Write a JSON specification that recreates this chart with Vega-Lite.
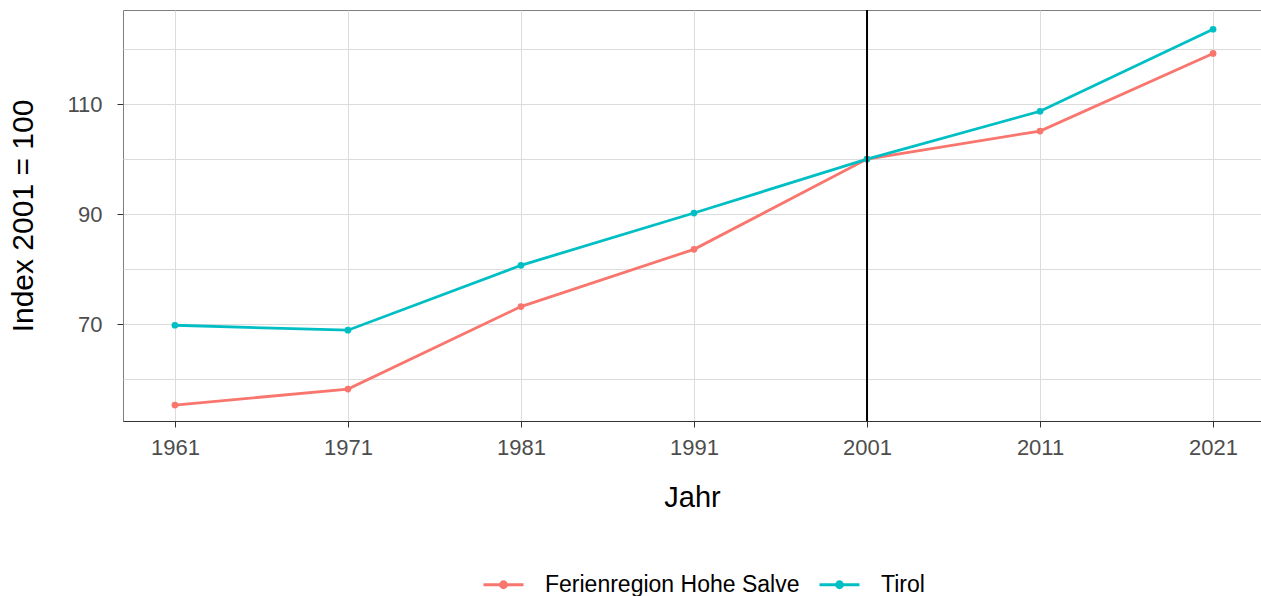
{
  "$schema": "https://vega.github.io/schema/vega-lite/v6.json",
  "autosize": "none",
  "width": 1138,
  "height": 411,
  "padding": {"left": 123, "top": 10, "right": 0, "bottom": 175},
  "background": "white",
  "config": {
    "font": "Liberation Sans",
    "view": {"stroke": "#7f7f7f", "strokeWidth": 1}
  },
  "data": {"values": [
    {"Jahr": 1961, "Region": "Ferienregion Hohe Salve", "Index": 55.3},
    {"Jahr": 1971, "Region": "Ferienregion Hohe Salve", "Index": 58.2},
    {"Jahr": 1981, "Region": "Ferienregion Hohe Salve", "Index": 73.2},
    {"Jahr": 1991, "Region": "Ferienregion Hohe Salve", "Index": 83.6},
    {"Jahr": 2001, "Region": "Ferienregion Hohe Salve", "Index": 100},
    {"Jahr": 2011, "Region": "Ferienregion Hohe Salve", "Index": 105.1},
    {"Jahr": 2021, "Region": "Ferienregion Hohe Salve", "Index": 119.2},
    {"Jahr": 1961, "Region": "Tirol", "Index": 69.8},
    {"Jahr": 1971, "Region": "Tirol", "Index": 68.9},
    {"Jahr": 1981, "Region": "Tirol", "Index": 80.7},
    {"Jahr": 1991, "Region": "Tirol", "Index": 90.2},
    {"Jahr": 2001, "Region": "Tirol", "Index": 100},
    {"Jahr": 2011, "Region": "Tirol", "Index": 108.7},
    {"Jahr": 2021, "Region": "Tirol", "Index": 123.6}
  ]},
  "encoding": {
    "x": {"field": "Jahr", "type": "quantitative", "scale": {"domain": [1958, 2023.77], "nice": false, "zero": false},
      "axis": {"values": [1961, 1971, 1981, 1991, 2001, 2011, 2021], "format": "d", "title": "Jahr", "tickSize": 6, "labelPadding": 10, "titlePadding": 25,
        "labelFontSize": 22, "labelColor": "#4d4d4d", "labelFont": "Liberation Sans", "titleFontSize": 29, "titleFontWeight": "normal", "titleColor": "#000000", "titleFont": "Liberation Sans",
        "gridColor": "#dcdcdc", "gridWidth": 1,
        "domainColor": "#333333", "domainWidth": 1.2, "tickColor": "#333333"}},
    "y": {"field": "Index", "type": "quantitative", "scale": {"domain": [52.4, 127.1], "nice": false, "zero": false},
      "axis": {"values": [60, 70, 80, 90, 100, 110, 120], "title": "Index 2001 = 100", "tickSize": 6, "labelPadding": 15, "titlePadding": 28, "domain": false,
        "labelFontSize": 22, "labelColor": "#4d4d4d", "labelFont": "Liberation Sans", "titleFontSize": 30, "titleFontWeight": "normal", "titleColor": "#000000", "titleFont": "Liberation Sans",
        "gridColor": "#dcdcdc", "gridWidth": 1, "tickColor": "#333333",
        "labelExpr": "datum.value % 20 == 10 ? datum.label : ''",
        "tickOpacity": {"condition": {"test": "datum.value % 20 == 10", "value": 1}, "value": 0}}},
    "color": {"field": "Region", "type": "nominal", "scale": {"domain": ["Ferienregion Hohe Salve", "Tirol"], "range": ["#F8766D", "#00BFC4"]},
      "legend": {"title": null, "orient": "none", "direction": "horizontal", "legendX": 359, "legendY": 553, "labelFontSize": 23, "labelColor": "#000000", "labelFont": "Liberation Sans", "labelLimit": 500,
        "symbolType": "M-1,0H1M-0.15,0A0.15,0.15 0 1,0 0.15,0A0.15,0.15 0 1,0 -0.15,0Z", "symbolSize": 1600, "symbolStrokeWidth": 2.8, "labelOffset": 20, "columnPadding": 13}}
  },
  "layer": [
    {"mark": {"type": "line", "strokeWidth": 2.8}},
    {"mark": {"type": "point", "filled": true, "size": 45, "opacity": 1}},
    {"data": {"values": [{"Jahr": 2001}]}, "mark": {"type": "rule", "color": "#000000", "strokeWidth": 2}, "encoding": {"x": {"field": "Jahr", "type": "quantitative"}, "y": null, "color": null}}
  ]
}
